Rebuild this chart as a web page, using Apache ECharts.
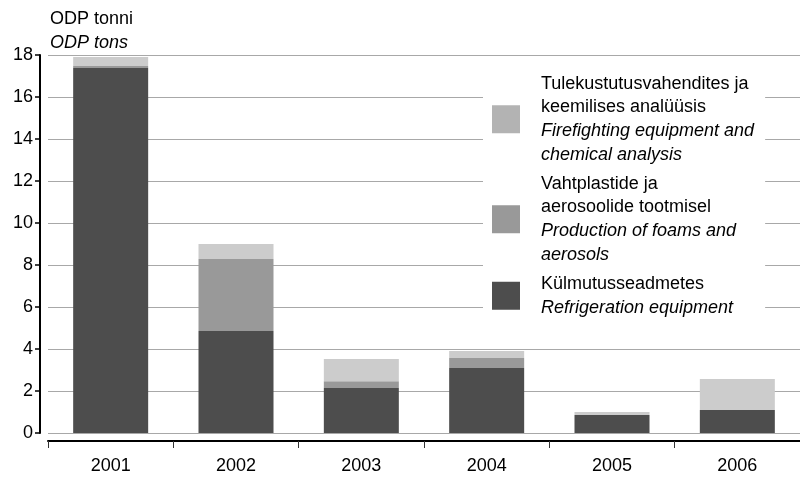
<!DOCTYPE html>
<html>
<head>
<meta charset="utf-8">
<script src="https://cdn.jsdelivr.net/npm/echarts@6/dist/echarts.min.js"></script>
<style>
    html, body { margin: 0; padding: 0; background: #fff; }
    #chart { width: 800px; height: 477px; }
</style>
</head>
<body>
<div id="chart"></div>
<script>
    // aastad
    var years = ['2001', '2002', '2003', '2004', '2005', '2006'];
    // ODP tonnid, loetud pildilt
    var refrigeration = [17.38, 4.86, 2.14, 3.10, 0.86, 1.10];
    var foams = [0.10, 3.43, 0.33, 0.47, 0.00, 0.00];
    var firefighting = [0.42, 0.71, 1.05, 0.33, 0.14, 1.47];

    var yTicks = { min: 0, max: 18, interval: 2 };

    var legendText = {
        Firefighting: [['Tulekustutusvahendites ja', 'keemilises analüüsis'], ['Firefighting equipment and', 'chemical analysis']],
        Foams: [['Vahtplastide ja', 'aerosoolide tootmisel'], ['Production of foams and', 'aerosols']],
        Refrigeration: [['Külmutusseadmetes'], ['Refrigeration equipment']]
    };

    var font = 'Liberation Sans, Arial, sans-serif';
    var chart = echarts.init(document.getElementById('chart'));

    chart.setOption({
        animation: false,
        textStyle: { fontFamily: font },
        title: {
            left: 50,
            top: 8,
            padding: 0,
            text: '{a|ODP tonni}\n{b|ODP tons}',
            textStyle: {
                fontWeight: 'normal',
                rich: {
                    a: { fontSize: 18, color: '#000', lineHeight: 23, fontWeight: 'normal', fontFamily: font },
                    b: { fontSize: 18, color: '#000', lineHeight: 23, fontWeight: 'normal', fontStyle: 'italic', fontFamily: font }
                }
            }
        },
        legend: {
            orient: 'vertical',
            left: 483,
            top: 65,
            padding: [10, 11, 10, 9],
            backgroundColor: '#fff',
            itemWidth: 28,
            itemHeight: 28,
            itemGap: 11.5,
            selectedMode: false,
            data: [
                { name: 'Firefighting', icon: 'rect', itemStyle: { color: '#b3b3b3' } },
                { name: 'Foams', icon: 'rect', itemStyle: { color: '#999999' } },
                { name: 'Refrigeration', icon: 'rect', itemStyle: { color: '#4d4d4d' } }
            ],
            formatter: function (name) {
                var t = legendText[name];
                var lines = [];
                t[0].forEach(function (s) { lines.push('{a|' + s + '}'); });
                t[1].forEach(function (s) { lines.push('{b|' + s + '}'); });
                return lines.join('\n');
            },
            textStyle: {
                rich: {
                    a: { fontSize: 18, color: '#000', lineHeight: 23.5, padding: [0, 0, 0, 16], fontFamily: font },
                    b: { fontSize: 18, color: '#000', lineHeight: 23.5, padding: [0, 0, 0, 16], fontStyle: 'italic', fontFamily: font }
                }
            }
        },
        grid: {
            left: 48,
            top: 55,
            width: 758,
            height: 378,
            containLabel: false
        },
        xAxis: {
            type: 'category',
            data: years,
            offset: 8,
            axisLine: { onZero: false, lineStyle: { color: '#000', width: 2 } },
            axisTick: { show: true, length: 7, lineStyle: { color: '#333', width: 1 } },
            axisLabel: { color: '#000', fontSize: 18, margin: 16, fontFamily: font }
        },
        yAxis: {
            type: 'value',
            min: yTicks.min,
            max: yTicks.max,
            interval: yTicks.interval,
            offset: 8,
            axisLine: { show: true, lineStyle: { color: '#000', width: 2 } },
            axisTick: { show: true, length: 5, lineStyle: { color: '#000', width: 1.5 } },
            axisLabel: { color: '#000', fontSize: 18, margin: 7, fontFamily: font },
            splitLine: { show: true, lineStyle: { color: '#a8a8a8', width: 1 } }
        },
        series: [
            {
                name: 'Refrigeration',
                type: 'bar',
                stack: 'odp',
                barWidth: 75,
                itemStyle: { color: '#4d4d4d' },
                data: refrigeration
            },
            {
                name: 'Foams',
                type: 'bar',
                stack: 'odp',
                barWidth: 75,
                itemStyle: { color: '#999999' },
                data: foams
            },
            {
                name: 'Firefighting',
                type: 'bar',
                stack: 'odp',
                barWidth: 75,
                itemStyle: { color: '#cccccc' },
                data: firefighting
            }
        ]
    });
</script>
</body>
</html>
